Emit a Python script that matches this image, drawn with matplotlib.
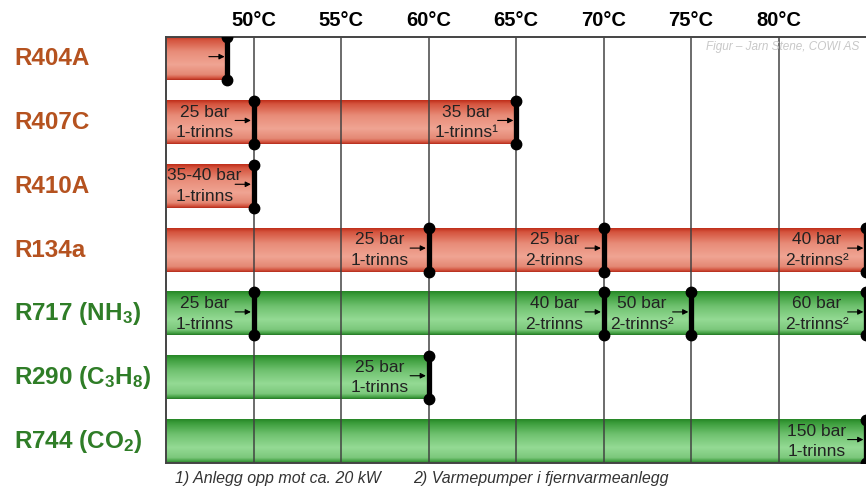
import numpy as np
import matplotlib.pyplot as plt
from matplotlib.colors import LinearSegmentedColormap

plt.rcParams['font.family'] = ['Liberation Sans', 'DejaVu Sans']
plt.rcParams['mathtext.fontset'] = 'custom'
plt.rcParams['mathtext.rm'] = 'Liberation Sans:bold'
plt.rcParams['mathtext.it'] = 'Liberation Sans:bold'
plt.rcParams['mathtext.bf'] = 'Liberation Sans:bold'

# data
refrigerants = ['R404A', 'R407C', 'R410A', 'R134a',
                r'R717 (NH$_\mathrm{3}$)', r'R290 (C$_\mathrm{3}$H$_\mathrm{8}$)',
                r'R744 (CO$_\mathrm{2}$)']
natural = [False, False, False, False, True, True, True]
max_temp = [48.5, 65, 50, 85, 85, 60, 85]

mark_rows = [0, 1, 1, 2, 3, 3, 3, 4, 4, 4, 4, 5, 6]
mark_temps = [48.5, 50, 65, 50, 60, 70, 85, 50, 70, 75, 85, 60, 85]
mark_labels = ['', '25 bar\n1-trinns', '35 bar\n1-trinns\u00b9', '35-40 bar\n1-trinns',
               '25 bar\n1-trinns', '25 bar\n2-trinns', '40 bar\n2-trinns\u00b2',
               '25 bar\n1-trinns', '40 bar\n2-trinns', '50 bar\n2-trinns\u00b2',
               '60 bar\n2-trinns\u00b2', '25 bar\n1-trinns', '150 bar\n1-trinns']

ticks = [50, 55, 60, 65, 70, 75, 80]
tick_labels = ['50°C', '55°C', '60°C', '65°C', '70°C', '75°C', '80°C']

red_cmap = LinearSegmentedColormap.from_list('red', [
    (0.0, '#bf2e1a'), (0.08, '#d4523c'), (0.35, '#e88c78'), (0.65, '#f0a493'),
    (0.88, '#e48874'), (0.96, '#d2513c'), (1.0, '#b42c1c')])
green_cmap = LinearSegmentedColormap.from_list('green', [
    (0.0, '#268626'), (0.08, '#3a9c3a'), (0.35, '#70c270'), (0.65, '#94da94'),
    (0.88, '#7cc87c'), (0.96, '#42a042'), (1.0, '#267826')])

fig = plt.figure(figsize=(8.66, 4.91), dpi=100)
ax = fig.add_axes([0.1917, 0.057, 0.8083, 0.8676])

h = 0.675
grad = np.linspace(0, 1, 200).reshape(-1, 1)
for i, t in enumerate(max_temp):
    cmap = green_cmap if natural[i] else red_cmap
    ax.imshow(grad, cmap=cmap, aspect='auto', origin='upper',
              extent=(45, t, i + h / 2, i - h / 2), zorder=1, interpolation='bilinear')

# grid lines over bars
for t in ticks:
    ax.axvline(t, color='#404040', lw=1.2, alpha=0.9, zorder=2)

# markers with labels and arrows
for r, t, lab in zip(mark_rows, mark_temps, mark_labels):
    ax.plot([t, t], [r - h / 2, r + h / 2], color='black', lw=3.8,
            marker='o', markersize=7.5, solid_capstyle='butt', zorder=5)
    ax.annotate('', xy=(t - 0.15, r - 0.03), xytext=(t - 1.05, r - 0.03),
                arrowprops=dict(arrowstyle='-|>', color='black', lw=0.8,
                                mutation_scale=8, shrinkA=0, shrinkB=0), zorder=4)
    if lab:
        ax.text(t - 2.8, r, lab, ha='center', va='center', fontsize=12.5,
                color='#222222', linespacing=1.45, zorder=4)

ax.set_xlim(45, 85)
ax.set_ylim(6 + h / 2, -h / 2)
ax.set_yticks([])
ax.xaxis.tick_top()
ax.set_xticks(ticks)
ax.set_xticklabels(tick_labels, fontsize=14.5, fontweight='bold')
ax.tick_params(axis='x', length=0, pad=5)
for s in ['top', 'left', 'bottom']:
    ax.spines[s].set_color('#444444')
    ax.spines[s].set_linewidth(1.4)
ax.spines['right'].set_visible(False)

# refrigerant names on the left
for i, name in enumerate(refrigerants):
    col = '#2f7d27' if natural[i] else '#b5521f'
    ax.text(-0.217, i, name, transform=ax.get_yaxis_transform(), ha='left', va='center',
            fontsize=17.5, fontweight='bold', color=col)

ax.text(84.6, -0.18, 'Figur – Jarn Stene, COWI AS', ha='right', va='center',
        fontsize=8.5, style='italic', color='#c8c8c8', zorder=3)

fig.text(175 / 866, 1 - 478 / 491, '1) Anlegg opp mot ca. 20 kW', ha='left', va='center',
         fontsize=11.5, style='italic', color='#333333')
fig.text(413 / 866, 1 - 478 / 491, '2) Varmepumper i fjernvarmeanlegg', ha='left', va='center',
         fontsize=11.5, style='italic', color='#333333')

fig.savefig('out.png', dpi=100)
